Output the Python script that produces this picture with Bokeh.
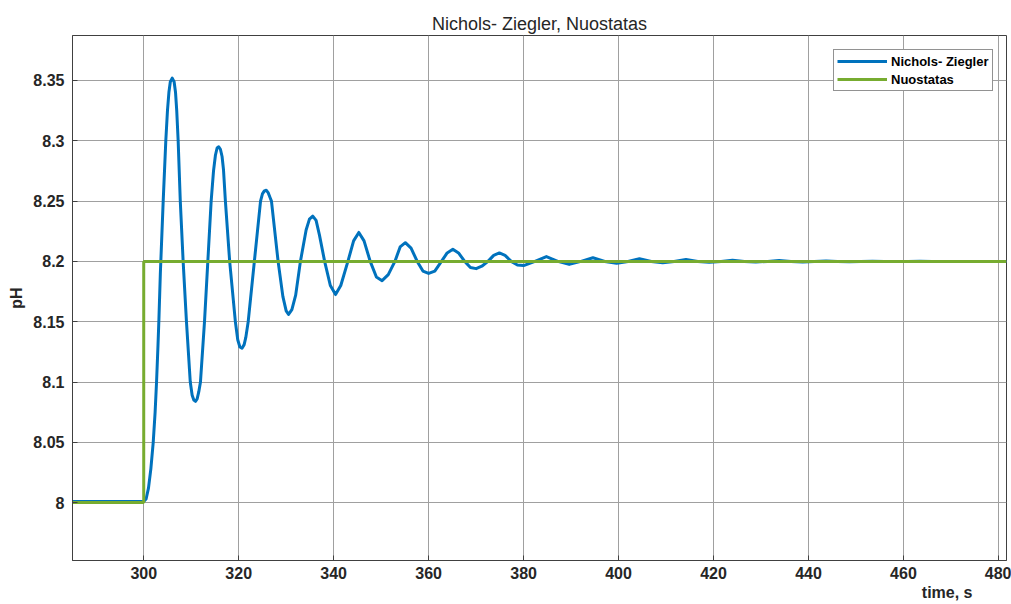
from bokeh.plotting import figure
from bokeh.models import (ColumnDataSource, FixedTicker, Legend, LegendItem,
                          Range1d, Title)
from bokeh.embed import file_html
from bokeh.resources import INLINE

# Closed-loop pH response, Nichols-Ziegler tuning, with the setpoint step
time_nz = [285.0, 300.0, 300.5, 301.0, 301.5, 302.0, 302.4, 302.7, 303.0, 303.2,
           303.5, 303.7, 304.1, 304.65, 305.0, 305.3, 305.6, 306.0, 306.4, 306.7,
           306.95, 307.25, 307.7, 308.3, 309.0, 309.8, 310.2, 310.55, 310.9, 311.25,
           311.6, 311.95, 312.8, 313.5, 314.2, 314.7, 315.1, 315.45, 315.8, 316.15,
           316.5, 316.8, 317.2, 318.1, 319.3, 319.8, 320.25, 320.7, 321.15, 321.5,
           322.0, 323.3, 324.6, 325.0, 325.4, 325.8, 326.2, 326.6, 326.9, 328.3,
           329.3, 330.0, 330.5, 331.2, 332.0, 333.0, 334.2, 334.9, 335.6, 336.3,
           337.0, 338.1, 339.3, 340.4, 341.5, 343.0, 344.2, 345.3, 346.4, 347.7,
           349.0, 350.2, 351.5, 352.9, 354.0, 355.1, 356.3, 357.6, 358.8, 360.0,
           361.3, 362.7, 363.9, 365.1, 366.3, 367.6, 368.8, 370.0, 371.2, 372.5,
           373.7, 374.9, 376.1, 377.4, 378.7, 380.0, 382.4, 384.8, 387.2, 389.6,
           392.1, 394.6, 397.1, 399.6, 402.0, 404.4, 406.9, 409.3, 411.7, 414.2,
           416.7, 419.1, 421.6, 424.0, 426.5, 428.9, 431.4, 433.8, 436.3, 438.8,
           441.2, 443.7, 446.1, 448.6, 451.0, 453.5, 456.0, 458.5, 461.0, 463.5,
           466.0, 481.7]
ph_nz = [8.001, 8.001, 8.003, 8.012, 8.028, 8.050, 8.075, 8.100, 8.130, 8.152,
         8.190, 8.210, 8.250, 8.300, 8.325, 8.340, 8.349, 8.352, 8.349, 8.340,
         8.325, 8.300, 8.250, 8.200, 8.150, 8.100, 8.089, 8.085, 8.084, 8.086,
         8.092, 8.100, 8.150, 8.200, 8.250, 8.275, 8.288, 8.294, 8.295, 8.293,
         8.287, 8.276, 8.250, 8.200, 8.150, 8.135, 8.129, 8.128, 8.131, 8.137,
         8.150, 8.200, 8.250, 8.256, 8.2585, 8.259, 8.257, 8.253, 8.250, 8.200,
         8.171, 8.159, 8.156, 8.160, 8.172, 8.200, 8.226, 8.235, 8.2375, 8.234,
         8.222, 8.200, 8.180, 8.1725, 8.180, 8.200, 8.217, 8.224, 8.217, 8.200,
         8.187, 8.184, 8.189, 8.200, 8.212, 8.2155, 8.211, 8.200, 8.192, 8.190,
         8.192, 8.200, 8.207, 8.210, 8.207, 8.200, 8.195, 8.194, 8.196, 8.200,
         8.205, 8.207, 8.205, 8.200, 8.197, 8.1965, 8.200, 8.204, 8.200, 8.1975,
         8.200, 8.203, 8.200, 8.1985, 8.200, 8.2022, 8.200, 8.1988, 8.200, 8.2015,
         8.200, 8.1992, 8.200, 8.201, 8.200, 8.1994, 8.200, 8.2007, 8.200, 8.1996,
         8.200, 8.2004, 8.200, 8.1998, 8.200, 8.2002, 8.200, 8.1999, 8.200, 8.2001,
         8.200, 8.200]

time_sp = [285.0, 300.0, 300.0, 481.7]
ph_sp = [8.0, 8.0, 8.2, 8.2]

x_ticks = [300, 320, 340, 360, 380, 400, 420, 440, 460, 480]
y_ticks = [8.0, 8.05, 8.1, 8.15, 8.2, 8.25, 8.3, 8.35]
y_tick_labels = ["8", "8.05", "8.1", "8.15", "8.2", "8.25", "8.3", "8.35"]

series_names = ["Nichols- Ziegler", "Nuostatas"]
title_text = "Nichols- Ziegler, Nuostatas"
x_label = "time, s"
y_label = "pH"

FONT = "Liberation Sans"
TEXT = "#262626"
AXIS = "#404040"
BLUE = "#0072BD"
GREEN = "#77AC30"

p = figure(width=1011, height=604, output_backend="svg", toolbar_location=None,
           x_range=Range1d(285, 481.7), y_range=Range1d(7.952, 8.3873),
           min_border_left=72, min_border_right=5, min_border_top=35,
           min_border_bottom=44)

# title above the axes box
p.title.text = title_text
p.title.align = "center"
p.title.offset = 3
p.title.standoff = 3
p.title.text_font = FONT
p.title.text_font_size = "18px"
p.title.text_font_style = "normal"
p.title.text_color = TEXT

p.outline_line_color = AXIS
p.outline_line_width = 1
p.background_fill_color = "white"
p.border_fill_color = "white"

for ax in (p.xaxis[0], p.yaxis[0]):
    ax.axis_line_color = AXIS
    ax.major_tick_line_color = AXIS
    ax.major_tick_in = 5
    ax.major_tick_out = 0
    ax.minor_tick_line_color = None
    ax.major_label_text_font = FONT
    ax.major_label_text_font_style = "bold"
    ax.major_label_text_font_size = "16px"
    ax.major_label_text_color = TEXT

p.xaxis.ticker = FixedTicker(ticks=x_ticks)
p.yaxis.ticker = FixedTicker(ticks=y_ticks)
p.yaxis.major_label_overrides = {v: s for v, s in zip(y_ticks, y_tick_labels)}
p.xaxis.major_label_standoff = 6
p.yaxis.major_label_standoff = 8

p.yaxis.axis_label = y_label
p.yaxis.axis_label_text_font = FONT
p.yaxis.axis_label_text_font_style = "bold"
p.yaxis.axis_label_text_font_size = "16px"
p.yaxis.axis_label_text_color = TEXT
p.yaxis.axis_label_standoff = 5

# x-axis caption sits at the lower right, under the tick labels
x_caption = Title(text=x_label, align="right", offset=34, standoff=0,
                  text_font=FONT, text_font_size="16px",
                  text_font_style="bold", text_color=TEXT)
p.add_layout(x_caption, "below")

p.xgrid.ticker = FixedTicker(ticks=x_ticks)
p.ygrid.ticker = FixedTicker(ticks=y_ticks)
for g in (p.xgrid[0], p.ygrid[0]):
    g.grid_line_color = "#a0a0a0"
    g.grid_line_width = 1

src_nz = ColumnDataSource(dict(t=time_nz, ph=ph_nz))
src_sp = ColumnDataSource(dict(t=time_sp, ph=ph_sp))
r_nz = p.line("t", "ph", source=src_nz, line_color=BLUE, line_width=3,
              line_join="round")
r_sp = p.line("t", "ph", source=src_sp, line_color=GREEN, line_width=3)

legend = Legend(items=[LegendItem(label=series_names[0], renderers=[r_nz]),
                       LegendItem(label=series_names[1], renderers=[r_sp])],
                location=(761, 469), orientation="vertical")
legend.label_text_font = FONT
legend.label_text_font_style = "bold"
legend.label_text_font_size = "13px"
legend.label_text_color = "#000000"
legend.glyph_width = 50
legend.glyph_height = 16
legend.label_height = 16
legend.label_standoff = 4
legend.spacing = 2
legend.padding = 3
legend.margin = 0
legend.border_line_color = "#262626"
legend.border_line_width = 1
legend.background_fill_color = "white"
legend.background_fill_alpha = 1
p.add_layout(legend, "center")

open("out.html", "w").write(file_html(p, INLINE))
